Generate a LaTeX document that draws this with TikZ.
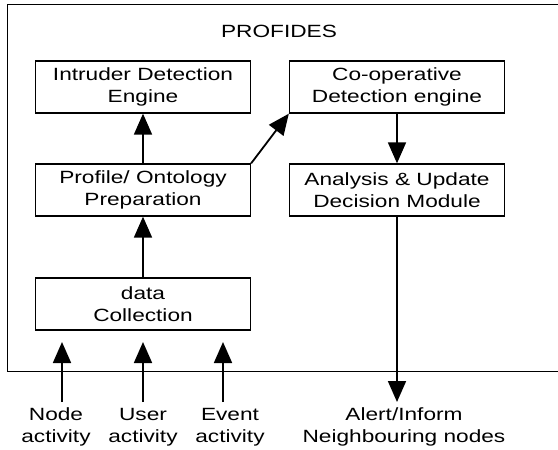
\documentclass[tikz,border=0pt]{standalone}
\usepackage{fontspec}
\setmainfont[FakeStretch=1.28]{Liberation Sans}
\usetikzlibrary{arrows.meta}
\begin{document}
\begin{tikzpicture}[x=1pt,y=1pt,
  box/.style={draw,line width=1.3pt,minimum width=215pt,minimum height=52pt,inner sep=0pt,align=center,font=\fontsize{17.7}{22}\selectfont},
  lbl/.style={align=center,inner sep=0pt,font=\fontsize{17.7}{22}\selectfont},
  arr/.style={line width=1.8pt,-{Triangle[length=21pt,width=18pt]}}]
\useasboundingbox (0,0) rectangle (558,-450);
\draw[line width=1pt] (558,-4) -- (7,-4) -- (7,-371) -- (558,-371);
\node[lbl] (title) at (279,-31) {PROFIDES};
\node[box] (ide) at (143,-87) {Intruder Detection\\Engine};
\node[box] (cde) at (397,-87) {Co-operative\\Detection engine};
\node[box] (pop) at (143,-190) {Profile/ Ontology\\Preparation};
\node[box] (aud) at (397,-190) {Analysis \& Update\\Decision Module};
\node[box] (dc) at (143,-304) {data\\Collection};
\node[lbl] (na) at (56,-427) {Node\\activity};
\node[lbl] (ua) at (143,-427) {User\\activity};
\node[lbl] (ea) at (230,-427) {Event\\activity};
\node[lbl] (al) at (404,-427) {Alert/Inform\\Neighbouring nodes};
\coordinate (n0) at (62,-402); \coordinate (n1) at (62,-342);
\coordinate (u0) at (143,-402); \coordinate (u1) at (143,-342);
\coordinate (e0) at (223,-402); \coordinate (e1) at (223,-342);
\coordinate (a1) at (397,-402);
\draw[arr] (pop.north) -- (ide.south);
\draw[arr] (dc.north) -- (pop.south);
\draw[arr] (pop.north east) -- (cde.south west);
\draw[arr] (cde.south) -- (aud.north);
\draw[arr] (aud.south) -- (a1);
\draw[arr] (n0) -- (n1);
\draw[arr] (u0) -- (u1);
\draw[arr] (e0) -- (e1);
\end{tikzpicture}
\end{document}
